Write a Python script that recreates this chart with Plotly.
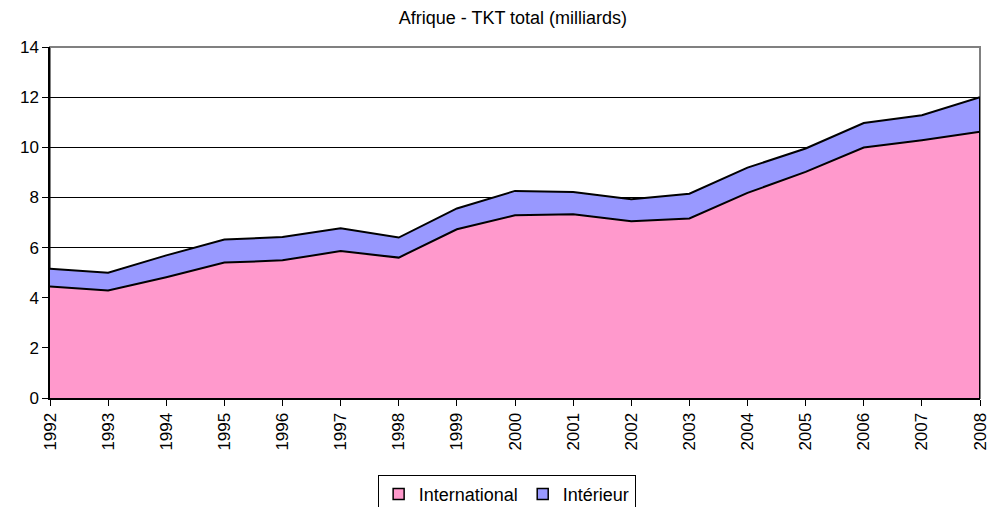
import plotly.graph_objects as go

years = list(range(1992, 2009))
international = [4.45, 4.29, 4.82, 5.40, 5.49, 5.86, 5.60, 6.73, 7.29, 7.33, 7.05, 7.16, 8.18, 9.02, 9.99, 10.28, 10.62]
interieur = [0.71, 0.71, 0.87, 0.92, 0.93, 0.91, 0.80, 0.83, 0.97, 0.89, 0.88, 0.99, 1.01, 0.93, 0.98, 1.00, 1.38]
y_ticks = [0, 2, 4, 6, 8, 10, 12, 14]

PINK = "#FF99CC"
BLUE = "#9999FF"

fig = go.Figure()
fig.add_trace(go.Scatter(x=years, y=international, name="International", stackgroup="one",
                         mode="lines", line=dict(color="black", width=2), fillcolor=PINK,
                         showlegend=False, hoverinfo="skip"))
fig.add_trace(go.Scatter(x=years, y=interieur, name="Intérieur", stackgroup="one",
                         mode="lines", line=dict(color="black", width=2), fillcolor=BLUE,
                         showlegend=False, hoverinfo="skip"))
# right-hand edge of the stacked area (outline down to the axis)
total_last = international[-1] + interieur[-1]
fig.add_trace(go.Scatter(x=[years[-1], years[-1]], y=[0, total_last], mode="lines",
                         line=dict(color="black", width=2), showlegend=False, hoverinfo="skip"))
# legend entries as squares
fig.add_trace(go.Scatter(x=[None], y=[None], mode="markers", name="International",
                         marker=dict(symbol="square", size=11, color=PINK, line=dict(color="black", width=1.5))))
fig.add_trace(go.Scatter(x=[None], y=[None], mode="markers", name="Intérieur",
                         marker=dict(symbol="square", size=11, color=BLUE, line=dict(color="black", width=1.5))))

fig.update_layout(
    width=992, height=499,
    margin=dict(l=42, r=20, t=39, b=109, autoexpand=False),
    paper_bgcolor="white", plot_bgcolor="white",
    font=dict(family="Liberation Sans, Arial, sans-serif", size=16, color="black"),
    title=dict(text="Afrique - TKT total (milliards)", x=0.509, xanchor="center", y=0.98, yanchor="middle",
               font=dict(size=18)),
    showlegend=True,
    legend=dict(orientation="h", x=0.491, xanchor="center", y=-0.219, yanchor="top",
                bordercolor="black", borderwidth=1, font=dict(size=18),
                itemwidth=30, traceorder="normal", tracegroupgap=0),
)
fig.update_xaxes(range=[1992, 2008], tickmode="array", tickvals=years, ticktext=[str(y) for y in years],
                 tickangle=-90, ticks="outside", ticklen=6, tickcolor="black",
                 showline=True, linecolor="black", linewidth=2, showgrid=False, zeroline=False,
                 tickfont=dict(size=17), automargin=False)
fig.update_yaxes(range=[0, 14], tickvals=y_ticks, ticks="outside", ticklen=6, tickcolor="black",
                 showline=True, linecolor="black", linewidth=1.5, showgrid=True, gridcolor="black", gridwidth=1,
                 zeroline=False, tickfont=dict(size=17), automargin=False)
fig.add_shape(type="rect", xref="paper", yref="paper", x0=0, x1=1, y0=0, y1=1,
              line=dict(color="#808080", width=2), layer="below")

fig.write_html("out.html")
